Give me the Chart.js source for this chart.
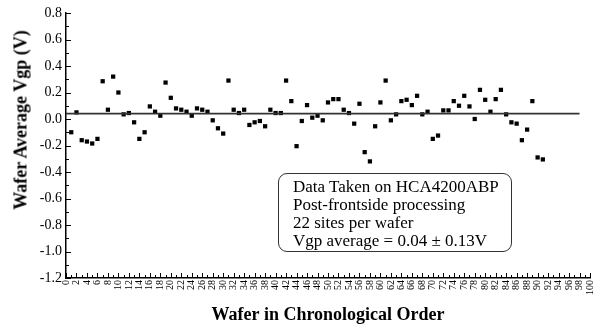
<!DOCTYPE html>
<html>
<head>
<meta charset="utf-8">
<script src="https://cdn.jsdelivr.net/npm/chart.js@4/dist/chart.umd.min.js"></script>
<style>
  body { margin: 0; background: #fff; }
  #wrap { position: relative; width: 597px; height: 328px; }
  #ytitle {
    position: absolute; left: 21px; top: 120px;
    transform: translate(-50%, -50%) rotate(-90deg);
    font: bold 18px "Liberation Serif", "Times New Roman", serif;
    white-space: nowrap; color: #000;
  }
  #note {
    position: absolute; left: 278px; top: 173px;
    width: 234px; height: 79px;
    border: 1.3px solid #333; border-radius: 9px;
    padding: 4px 0 0 14px; box-sizing: border-box;
    font: 17px/18px "Liberation Serif", "Times New Roman", serif;
    color: #000; white-space: nowrap;
  }
</style>
</head>
<body>
<div id="wrap">
  <canvas id="c" width="597" height="328"></canvas>
  <div id="ytitle">Wafer Average Vgp (V)</div>
  <div id="note">
    Data Taken on HCA4200ABP<br>
    Post-frontside processing<br>
    22 sites per wafer<br>
    Vgp average = 0.04 ± 0.13V
  </div>
</div>
<script>
const WAFERS = [
  1, 2, 3, 4, 5, 6, 7, 8, 9, 10, 11, 12, 13, 14, 15, 16, 17, 18, 19, 20,
  21, 22, 23, 24, 25, 26, 27, 28, 29, 30, 31, 32, 33, 34, 35, 36, 37, 38, 39, 40,
  41, 42, 43, 44, 45, 46, 47, 48, 49, 50, 51, 52, 53, 54, 55, 56, 57, 58, 59, 60,
  61, 62, 63, 64, 65, 66, 67, 68, 69, 70, 71, 72, 73, 74, 75, 76, 77, 78, 79, 80,
  81, 82, 83, 84, 85, 86, 87, 88, 89, 90, 91,
];
const VGP = [
  -0.10, 0.05, -0.16, -0.17, -0.185, -0.15, 0.285, 0.07, 0.32, 0.20,
  0.035, 0.045, -0.025, -0.15, -0.10, 0.095, 0.055, 0.025, 0.275, 0.16,
  0.08, 0.07, 0.055, 0.025, 0.08, 0.07, 0.055, -0.01, -0.07, -0.11,
  0.29, 0.07, 0.045, 0.07, -0.045, -0.025, -0.015, -0.055, 0.07, 0.045,
  0.045, 0.29, 0.135, -0.205, -0.015, 0.105, 0.01, 0.025, -0.01, 0.125,
  0.15, 0.15, 0.07, 0.045, -0.035, 0.115, -0.25, -0.32, -0.055, 0.125,
  0.29, -0.01, 0.035, 0.135, 0.145, 0.105, 0.175, 0.035, 0.055, -0.15,
  -0.125, 0.065, 0.065, 0.135, 0.10, 0.175, 0.095, 0.00, 0.22, 0.145,
  0.055, 0.15, 0.22, 0.035, -0.025, -0.035, -0.16, -0.08, 0.135, -0.29,
  -0.305,
];
const MEAN_X = [0, 98];
const MEAN_Y = [0.04, 0.04];

const SERIF = '"Liberation Serif", "Times New Roman", serif';

// ticks point into the plot, long on labelled values, short halfway between
const inwardTicks = {
  id: "inwardTicks",
  afterDatasetsDraw(chart) {
    const { ctx, scales: { x, y }, chartArea: a } = chart;
    ctx.save();
    ctx.strokeStyle = "#000";
    ctx.lineWidth = 1;
    ctx.beginPath();
    const yStep = y.ticks.length > 1 ? y.ticks[1].value - y.ticks[0].value : 0;
    y.ticks.forEach((t) => {
      const py = Math.round(y.getPixelForValue(t.value)) + 0.5;
      ctx.moveTo(a.left, py); ctx.lineTo(a.left + 5, py);
      if (t.value + yStep / 2 < y.max) {
        const pm = Math.round(y.getPixelForValue(t.value + yStep / 2)) + 0.5;
        ctx.moveTo(a.left, pm); ctx.lineTo(a.left + 3, pm);
      }
    });
    const xStep = x.ticks.length > 1 ? x.ticks[1].value - x.ticks[0].value : 0;
    x.ticks.forEach((t) => {
      const px = Math.round(x.getPixelForValue(t.value)) + 0.5;
      ctx.moveTo(px, a.bottom); ctx.lineTo(px, a.bottom - 5);
      if (t.value + xStep / 2 < x.max) {
        const pm = Math.round(x.getPixelForValue(t.value + xStep / 2)) + 0.5;
        ctx.moveTo(pm, a.bottom); ctx.lineTo(pm, a.bottom - 3);
      }
    });
    ctx.stroke();
    ctx.restore();
  },
};

new Chart(document.getElementById("c"), {
  type: "scatter",
  data: {
    datasets: [
      {
        type: "line",
        data: MEAN_X.map((x, i) => ({ x, y: MEAN_Y[i] })),
        borderColor: "#333",
        borderWidth: 1.8,
        pointRadius: 0,
        fill: false,
      },
      {
        data: WAFERS.map((x, i) => ({ x, y: VGP[i] })),
        pointStyle: "rect",
        pointRadius: 3,
        backgroundColor: "#000",
        borderWidth: 0,
      },
    ],
  },
  options: {
    responsive: false,
    animation: false,
    devicePixelRatio: 1,
    layout: { padding: { top: 13, right: 7, left: 0, bottom: 0 } },
    plugins: { legend: { display: false }, tooltip: { enabled: false } },
    scales: {
      x: {
        type: "linear",
        min: 0,
        max: 100,
        afterFit: (s) => { s.height = 50; s.paddingRight = 0; s.paddingLeft = 0; },
        grid: { display: false, drawTicks: false },
        border: { display: true, color: "#000", width: 1.5 },
        ticks: {
          stepSize: 2,
          autoSkip: false,
          minRotation: 90,
          maxRotation: 90,
          padding: 2,
          color: "#000",
          font: { family: SERIF, size: 10 },
        },
        title: {
          display: true,
          text: "Wafer in Chronological Order",
          color: "#000",
          font: { family: SERIF, size: 18, weight: "bold" },
          padding: { top: 0, bottom: 2 },
        },
      },
      y: {
        min: -1.2,
        max: 0.8,
        afterFit: (s) => { s.width = 66; },
        grid: { display: false, drawTicks: false },
        border: { display: true, color: "#000", width: 1.5 },
        ticks: {
          stepSize: 0.2,
          padding: 4,
          color: "#000",
          font: { family: SERIF, size: 14 },
          callback: (v) => Number(v).toFixed(1),
        },
      },
    },
  },
  plugins: [inwardTicks],
});
</script>
</body>
</html>
